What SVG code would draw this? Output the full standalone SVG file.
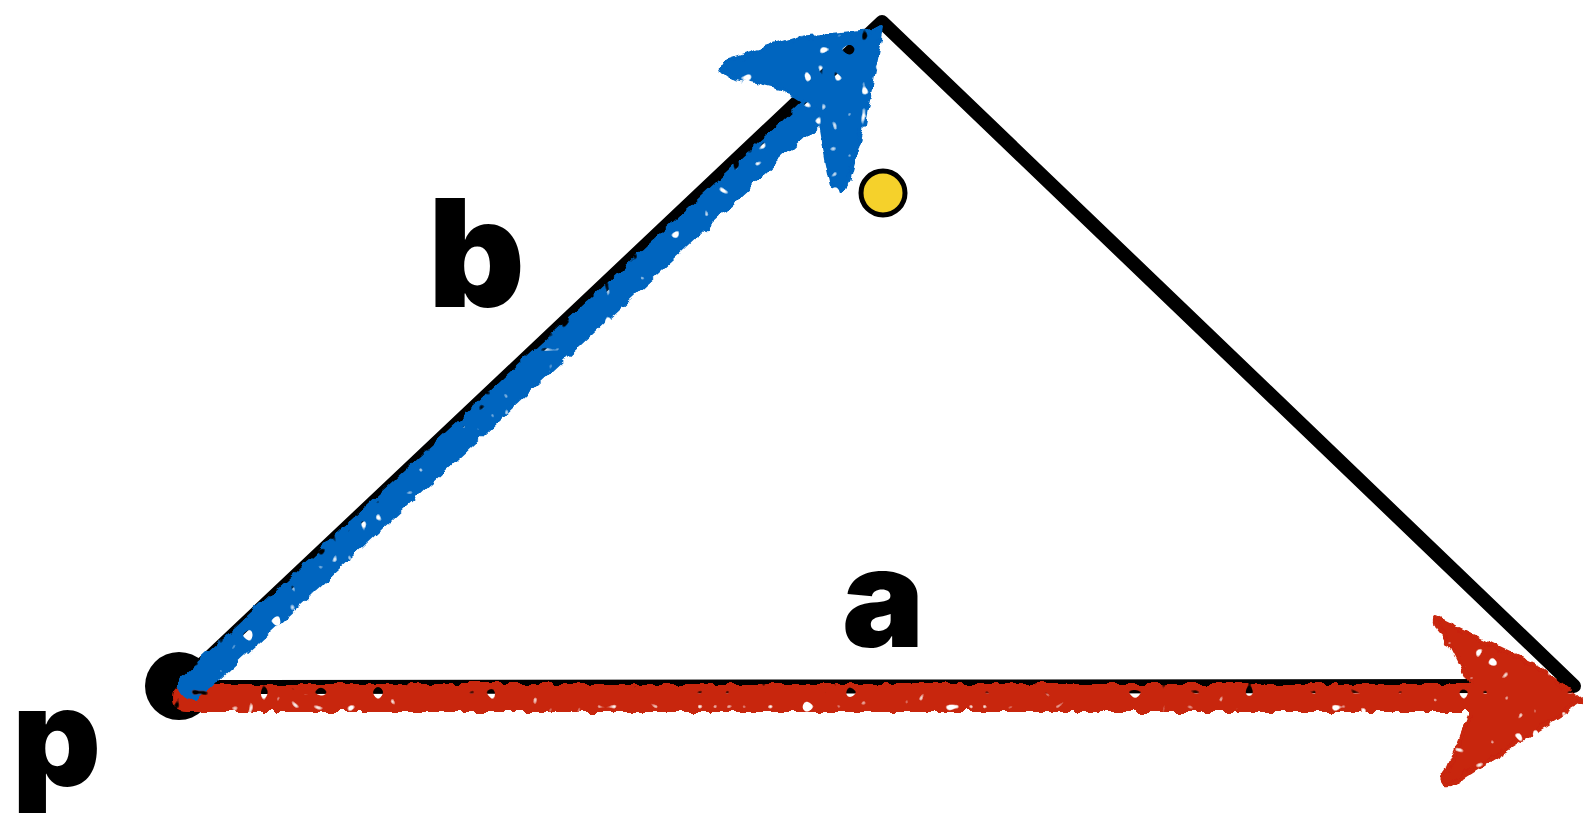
<svg xmlns="http://www.w3.org/2000/svg" width="1583" height="813" viewBox="0 0 1583 813">
  <style>
    .lbl { font-family: "Inter", "Liberation Sans", sans-serif; font-weight: 900; fill: #000; }
    .edge { fill: none; stroke: #000; stroke-width: 14; stroke-linejoin: round; stroke-linecap: round; }
    .blue { fill: #0565BF; stroke: #0565BF; stroke-linejoin: round; stroke-linecap: round; }
    .red { fill: #C8250B; stroke: #C8250B; stroke-linejoin: round; stroke-linecap: round; }
  </style>
  <defs>
    <filter id="rough" x="-5%" y="-15%" width="110%" height="130%">
      <feTurbulence type="fractalNoise" baseFrequency="0.08" numOctaves="2" seed="3" result="n"/>
      <feDisplacementMap in="SourceGraphic" in2="n" scale="10" xChannelSelector="R" yChannelSelector="G" result="d"/>
      <feTurbulence type="turbulence" baseFrequency="0.07" numOctaves="1" seed="7" result="h"/>
      <feColorMatrix in="h" type="matrix" values="0 0 0 0 0  0 0 0 0 0  0 0 0 0 0  0 0 0 -14 7" result="m"/>
      <feComposite in="d" in2="m" operator="in"/>
    </filter>
  </defs>
  <rect width="1583" height="813" fill="#fff"/>

  <g id="triangle">
    <path class="edge" d="M178,687 L882,22 L1574,686 Z"/>
    <circle cx="179" cy="686" r="34" fill="#000"/>
  </g>

  <g id="connectors">
    <g id="vector-a" filter="url(#rough)">
      <line class="red" x1="186" y1="698" x2="1500" y2="698" stroke-width="28"/>
      <path class="red" stroke-width="4" d="M1436,618 Q1434,626 1446,636 L1470,684 L1470,716 L1448,770 Q1436,786 1450,784 L1582,702 L1540,668 Z"/>
    </g>
    <g id="vector-b" filter="url(#rough)">
      <line class="blue" x1="192" y1="686" x2="834" y2="92" stroke-width="28"/>
      <path class="blue" stroke-width="4" d="M882,30 L800,38 L726,62 Q718,70 730,76 L780,88 L818,112 L826,160 L832,188 Q842,194 848,180 L862,130 L872,80 Z"/>
    </g>
  </g>

  <g id="point-dot">
    <circle cx="883" cy="193" r="22" fill="#F5D12B" stroke="#000" stroke-width="5"/>
  </g>

  <g id="label-b"><text class="lbl" x="428" y="307" font-size="150">b</text></g>
  <g id="label-a"><text class="lbl" x="842" y="647" font-size="138">a</text></g>
  <g id="label-p"><text class="lbl" x="12" y="786" font-size="138">p</text></g>
</svg>
